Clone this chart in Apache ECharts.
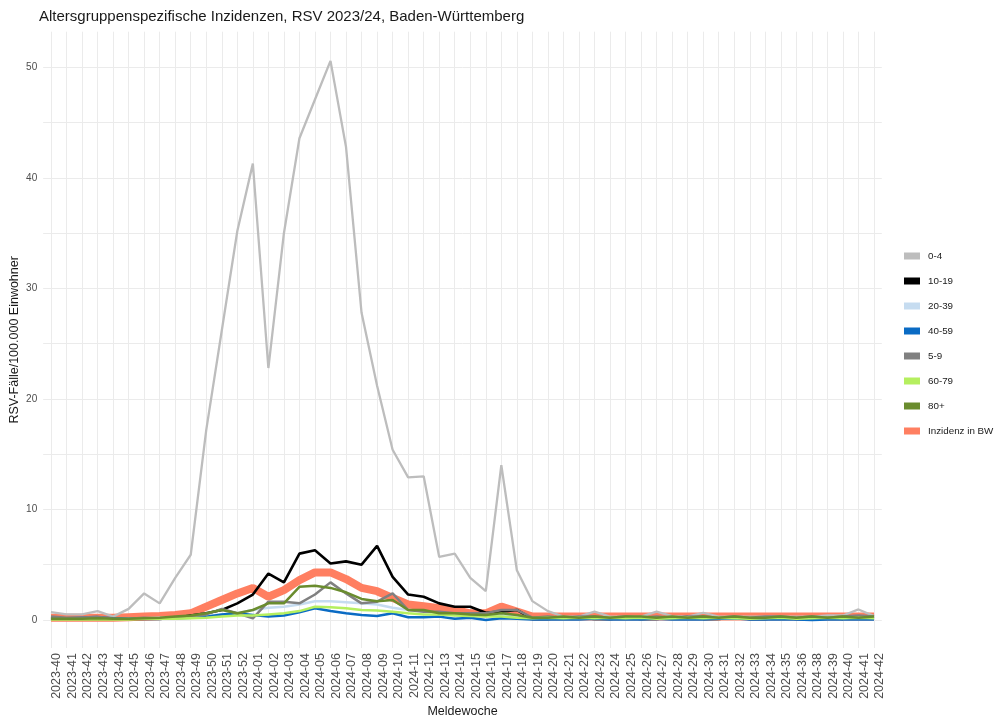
<!DOCTYPE html>
<html><head><meta charset="utf-8">
<script src="https://cdn.jsdelivr.net/npm/echarts@6/dist/echarts.min.js"></script>
<style>html,body{margin:0;padding:0;background:#fff}#c{width:995px;height:722px}</style>
</head><body><div id="c"></div>
<script>
const weeks = ["2023-40","2023-41","2023-42","2023-43","2023-44","2023-45","2023-46","2023-47","2023-48","2023-49","2023-50","2023-51","2023-52",
"2024-01","2024-02","2024-03","2024-04","2024-05","2024-06","2024-07","2024-08","2024-09","2024-10","2024-11","2024-12","2024-13","2024-14","2024-15","2024-16","2024-17","2024-18","2024-19","2024-20","2024-21","2024-22","2024-23","2024-24","2024-25","2024-26","2024-27","2024-28","2024-29","2024-30","2024-31","2024-32","2024-33","2024-34","2024-35","2024-36","2024-38","2024-39","2024-40","2024-41","2024-42"];

const age0_4 = [0.7,0.5,0.5,0.8,0.3,1.0,2.4,1.5,3.8,5.9,
 17.2,26.2,35.2,41.3,22.8,35.0,43.6,47.1,50.6,42.8,
 27.8,21.2,15.4,12.9,13.0,5.7,6.0,3.8,2.6,14.0,
 4.5,1.7,0.8,0.3,0.3,0.75,0.3,0.3,0.3,0.75,
 0.35,0.3,0.65,0.3,0.3,0.3,0.3,0.3,0.3,0.3,
 0.4,0.4,0.95,0.35];
const age10_19 = [0.1,0.1,0.1,0.1,0.1,0.1,0.1,0.1,0.2,0.4,
 0.6,0.9,1.5,2.3,4.2,3.4,6.0,6.3,5.1,5.3,
 5.0,6.7,3.9,2.3,2.1,1.5,1.2,1.2,0.65,0.75,
 0.9,0.1,0.1,0.2,0.2,0.1,0.1,0.2,0.1,0.1,
 0.2,0.25,0.1,0.1,0.2,0.1,0.1,0.2,0.1,0.1,
 0.2,0.1,0.3,0.2];
const age20_39 = [0.1,0.1,0.1,0.1,0.1,0.15,0.15,0.2,0.2,0.3,
 0.4,0.5,0.6,0.9,1.1,1.2,1.4,1.7,1.7,1.6,
 1.5,1.4,1.1,0.9,0.8,0.6,0.5,0.4,0.4,0.4,
 0.3,0.15,0.1,0.15,0.15,0.1,0.15,0.1,0.15,0.1,
 0.15,0.1,0.15,0.1,0.1,0.15,0.1,0.1,0.15,0.1,
 0.1,0.15,0.2,0.1];
const age40_59 = [0.15,0.15,0.2,0.25,0.15,0.1,0.1,0.1,0.15,0.2,
 0.3,0.5,0.6,0.45,0.3,0.4,0.7,1.05,0.8,0.6,
 0.45,0.35,0.6,0.25,0.25,0.3,0.1,0.2,0.0,0.15,
 0.1,0.05,0.05,0.05,0.05,0.1,0.05,0.05,0.05,0.1,
 0.05,0.05,0.05,0.1,0.15,0.05,0.05,0.05,0.05,0.0,
 0.05,0.05,0.05,0.05];
const age5_9 = [0.3,0.2,0.2,0.3,0.1,0.1,0.2,0.1,0.2,0.3,
 0.5,1.0,0.6,0.15,1.65,1.65,1.5,2.3,3.4,2.4,
 1.5,1.65,2.4,0.9,0.75,0.75,0.6,0.6,0.6,0.9,
 0.9,0.2,0.3,0.2,0.3,0.3,0.2,0.3,0.2,0.3,
 0.2,0.3,0.3,0.2,0.3,0.2,0.3,0.3,0.2,0.3,
 0.2,0.3,0.4,0.3];
const age60_79 = [0.05,0.05,0.05,0.05,0.05,0.05,0.1,0.1,0.1,0.15,
 0.2,0.3,0.4,0.4,0.5,0.6,0.8,1.2,1.15,1.05,
 0.9,0.85,0.75,0.6,0.5,0.5,0.4,0.35,0.3,0.3,
 0.2,0.15,0.2,0.15,0.2,0.15,0.2,0.15,0.2,0.1,
 0.15,0.2,0.15,0.2,0.15,0.1,0.15,0.2,0.1,0.15,
 0.2,0.15,0.2,0.15];
const age80plus = [0.1,0.1,0.1,0.15,0.1,0.1,0.15,0.2,0.3,0.4,
 0.6,0.9,0.6,0.9,1.5,1.5,3.0,3.1,2.9,2.5,
 1.9,1.7,1.8,0.9,0.9,0.6,0.6,0.5,0.45,0.6,
 0.45,0.2,0.2,0.3,0.2,0.3,0.2,0.3,0.3,0.2,
 0.3,0.2,0.3,0.2,0.3,0.2,0.2,0.3,0.2,0.3,
 0.2,0.3,0.2,0.3];
const inzidenzBW = [0.2,0.2,0.2,0.2,0.2,0.25,0.3,0.35,0.45,0.6,
 1.2,1.8,2.4,2.9,2.1,2.7,3.6,4.3,4.3,3.7,
 2.9,2.6,2.0,1.4,1.25,1.05,0.9,0.6,0.6,1.2,
 0.75,0.3,0.3,0.3,0.3,0.3,0.3,0.3,0.3,0.3,
 0.3,0.3,0.3,0.3,0.3,0.3,0.3,0.3,0.3,0.3,
 0.3,0.3,0.3,0.3];

const yLabelValues = [0,10,20,30,40,50];
const yGridValues = [0,5,10,15,20,25,30,35,40,45,50];
const legendOrder = ["0-4","10-19","20-39","40-59","5-9","60-79","80+","Inzidenz in BW"];

const FONT = "'Liberation Sans', Arial, sans-serif";
function line(name, data, color, width) {
  return { name, type:'line', data, color, symbol:'none', showSymbol:false,
    lineStyle:{ color, width }, emphasis:{disabled:true}, animation:false };
}

const chart = echarts.init(document.getElementById('c'), null, {renderer:'canvas'});
chart.setOption({
  backgroundColor:'#ffffff',
  animation:false,
  textStyle:{ fontFamily: FONT },
  title:{ text:'Altersgruppenspezifische Inzidenzen, RSV 2023/24, Baden-Württemberg',
    left:34, top:4, textStyle:{ fontSize:15, fontWeight:'normal', color:'#1a1a1a', fontFamily:FONT } },
  grid:{ left:43.2, right:113.2, top:31.7, bottom:74, containLabel:false, outerBoundsMode:'none' },
  legend:{ orient:'vertical', left:899, top:244, itemWidth:16, itemHeight:7, itemGap:11, icon:'rect',
    data: legendOrder, selectedMode:false,
    textStyle:{ fontSize:9.8, color:'#1a1a1a', lineHeight:14, padding:[0,0,0,3], fontFamily:FONT } },
  xAxis:{ type:'category', data: weeks, boundaryGap:true,
    name:'Meldewoche', nameLocation:'middle', nameGap:57, nameMoveOverlap:false,
    nameTextStyle:{ fontSize:12.5, color:'#1a1a1a', fontFamily:FONT },
    axisLine:{show:false}, axisTick:{show:false},
    axisLabel:{ rotate:90, interval:0, fontSize:12.5, lineHeight:12, verticalAlign:'top', color:'#4d4d4d', margin:5, fontFamily:FONT },
    splitLine:{ show:true, interval:0, alignWithLabel:true, lineStyle:{ color:'#ebebeb', width:1 } } },
  yAxis:{ type:'value', min:-2.54, max:53.24,
    name:'RSV-Fälle/100.000 Einwohner', nameLocation:'middle', nameGap:22, nameMoveOverlap:false,
    nameTextStyle:{ fontSize:12.5, color:'#1a1a1a', fontFamily:FONT },
    axisLine:{show:false}, axisTick:{show:false, customValues: yGridValues},
    axisLabel:{ customValues: yLabelValues, fontSize:10, color:'#4d4d4d', margin:6, fontFamily:FONT },
    splitLine:{ show:true, lineStyle:{ color:'#ebebeb', width:1 } } },
  series:[
    line('Inzidenz in BW', inzidenzBW, '#FF7F61', 8),
    line('0-4', age0_4, '#BDBDBD', 2.3),
    line('10-19', age10_19, '#000000', 2.6),
    line('20-39', age20_39, '#C6DCF0', 2.5),
    line('40-59', age40_59, '#0A6BC4', 2.5),
    line('5-9', age5_9, '#808080', 2.5),
    line('60-79', age60_79, '#B5EF5F', 2.5),
    line('80+', age80plus, '#6A8C2E', 2.5)
  ]
});
</script></body></html>
